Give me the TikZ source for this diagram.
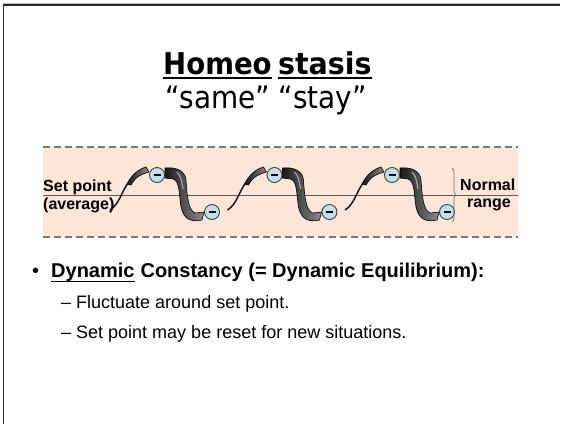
\documentclass[tikz,border=0pt]{standalone}
\usepackage{fontspec}
\setmainfont{Liberation Sans}
\newfontfamily\titlefont{DejaVu Sans}
\usetikzlibrary{calc,decorations.pathreplacing}
\definecolor{bandpink}{RGB}{253,229,216}
\definecolor{circblue}{RGB}{190,226,236}
\definecolor{dashgray}{RGB}{120,120,120}
\tikzset{
  txt/.style={inner sep=0pt, anchor=base west},
  minuscirc/.style={circle, draw=black!75, line width=0.9pt, fill=circblue, minimum size=15pt, inner sep=0pt},
  ribbon/.style={draw=black, line width=0.6pt, left color=black!90, right color=black!45},
  thinrib/.style={line width=1.5pt, black!90},
  bandline/.style={dashgray, line width=1.5pt, dash pattern=on 7pt off 4pt},
}
\begin{document}
\begin{tikzpicture}[x=1pt,y=-1pt]
\useasboundingbox (0,0) rectangle (563,424);
\fill[white] (0,0) rectangle (563,424);
% slide border
\draw[black!25, line width=1pt] (3,3.5) -- (560,3.5);
\draw[black!85, line width=1.5pt] (3,5) -- (560,5);
\draw[black!85, line width=1.5pt] (3.3,4.5) -- (3.3,424);

% title
\node[txt] (t1) at (163,74) {\titlefont\bfseries\fontsize{30}{30}\selectfont\scalebox{0.92}[1]{Homeo}};
\node[txt] (t2) at ($(t1.base east)+(6,0)$) {\titlefont\bfseries\fontsize{30}{30}\selectfont\scalebox{0.95}[1]{stasis}};
\draw[line width=2pt] ($(t1.base west)+(0,4)$) -- ($(t1.base east)+(0,4)$);
\draw[line width=2pt] ($(t2.base west)+(0,4)$) -- ($(t2.base east)+(0,4)$);
\node[inner sep=0pt, anchor=base] (sub) at (266,108) {\titlefont\fontsize{31}{31}\selectfont\scalebox{0.9}[1]{“same” “stay”}};

% band
\fill[bandpink] (43,147) rectangle (518,237);
\draw[bandline] (43,147) -- (518,147);
\draw[bandline] (43,237) -- (518,237);
\draw[black!65, line width=1pt] (43,195) -- (518,195);

% ribbons and circles
\foreach \k in {0,1,2}{
  \begin{scope}[shift={({157+117.5*\k},175)}]
    % rising thin ribbon
    \draw[thinrib] (-47,35) .. controls (-37,29) and (-35,14) .. (-27,6);
    \shade[ribbon] (-30,9) .. controls (-25,-1) and (-18,-6) .. (-11,-8) -- (-8,-3)
      .. controls (-15,-1) and (-21,1) .. (-26,10) -- cycle;
    % falling thick ribbon
    \shade[ribbon] (8,-7) .. controls (18,-8) and (28,-5) .. (29,5)
      .. controls (30,20) and (31,35) .. (38,38) -- (47,37) -- (45,45)
      .. controls (36,47) and (27,46) .. (24,32)
      .. controls (22,20) and (23,6) .. (16,4) -- (8,3) -- cycle;
    \draw[black!35, line width=1.2pt] (20,-3) .. controls (24,0) and (25,8) .. (26,14);
    \node[minuscirc] (ct\k) at (0,0) {};
    \node[minuscirc] (cb\k) at (55,37) {};
    \draw[line width=1.6pt] ($(ct\k)+(-3.5,0)$) -- ($(ct\k)+(3.5,0)$);
    \draw[line width=1.6pt] ($(cb\k)+(-3.5,0)$) -- ($(cb\k)+(3.5,0)$);
  \end{scope}
}

% labels in band
\node[txt] (sp) at (43,191) {\bfseries\fontsize{16}{16}\selectfont Set point};
\node[txt] (avg) at (43,209) {\bfseries\fontsize{16}{16}\selectfont (average)};
\node[txt] (nor) at (460,190) {\bfseries\fontsize{16}{16}\selectfont Normal};
\node[inner sep=0pt, anchor=base] (rng) at (489,207) {\bfseries\fontsize{16}{16}\selectfont range};
\draw[black!55, line width=0.7pt, decorate, decoration={brace, amplitude=4pt}] (452,168) -- (452,222);

% bullet text
\node[txt] (bul) at (32,277) {\fontsize{20}{20}\selectfont •};
\node[txt] (dyn) at (51,277) {\bfseries\fontsize{20}{20}\selectfont Dynamic};
\node[txt] (rest) at ($(dyn.base east)+(5.6,0)$) {\bfseries\fontsize{20}{20}\selectfont Constancy (= Dynamic Equilibrium):};
\draw[line width=1.5pt] ($(dyn.base west)+(0,4.5)$) -- ($(dyn.base east)+(0,4.5)$);
\node[txt] (l1) at (61,308) {\fontsize{18}{18}\selectfont – Fluctuate around set point.};
\node[txt] (l2) at (61,338) {\fontsize{18}{18}\selectfont – Set point may be reset for new situations.};
\end{tikzpicture}
\end{document}
